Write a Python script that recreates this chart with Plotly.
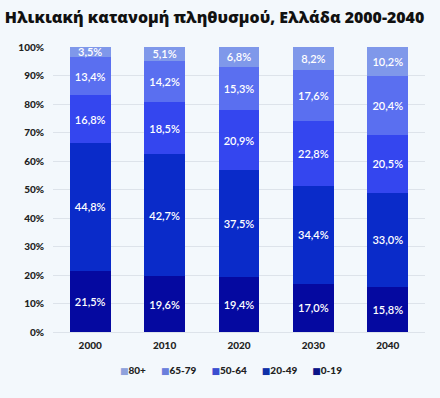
import plotly.graph_objects as go

years = ["2000", "2010", "2020", "2030", "2040"]
groups = ["0-19", "20-49", "50-64", "65-79", "80+"]
values = {
    "0-19": [21.5, 19.6, 19.4, 17.0, 15.8],
    "20-49": [44.8, 42.7, 37.5, 34.4, 33.0],
    "50-64": [16.8, 18.5, 20.9, 22.8, 20.5],
    "65-79": [13.4, 14.2, 15.3, 17.6, 20.4],
    "80+": [3.5, 5.1, 6.8, 8.2, 10.2],
}
colors = {
    "0-19": "#0509a0",
    "20-49": "#0a2bc9",
    "50-64": "#3446ef",
    "65-79": "#5a6ff0",
    "80+": "#7f98ea",
}
legend_colors = {
    "0-19": "#0a1488",
    "20-49": "#0e30a8",
    "50-64": "#3a4ed0",
    "65-79": "#6a7fdc",
    "80+": "#8fa2dc",
}

fig = go.Figure()
for g in groups:
    fig.add_trace(go.Bar(
        x=years, y=values[g], name=g, showlegend=False,
        marker=dict(color=colors[g], line=dict(width=0)),
        text=[f"{v:.1f}%".replace(".", ",") for v in values[g]],
        textposition="inside", insidetextanchor="middle",
        textfont=dict(color="white", size=11, family="Lato", weight=600),
        constraintext="none",
    ))

sep = "\u2002\u2002\u2002"
legend_text = sep.join(
    f"<span style='color:{legend_colors[g]};font-size:9px;font-family:DejaVu Sans'>\u25a0</span>{g}"
    for g in reversed(groups)
)
fig.add_annotation(text=legend_text, xref="paper", yref="paper",
                   x=0.478, y=-0.133, xanchor="center", yanchor="middle",
                   showarrow=False,
                   font=dict(size=10, color="#222222", family="Lato Black"))

fig.update_layout(
    barmode="stack",
    width=440, height=398,
    paper_bgcolor="#f3f8fc", plot_bgcolor="#f3f8fc",
    margin=dict(l=53, r=15, t=47, b=66, autoexpand=False),
    bargap=0.45,
    title=dict(text="Ηλικιακή κατανομή πληθυσμού, Ελλάδα 2000-2040",
               x=0.011, xanchor="left", y=0.955, yanchor="middle",
               font=dict(size=15.9, color="#111111", family="Open Sans", weight=800)),
    font=dict(family="Lato", color="#222222"),
    yaxis=dict(range=[0, 100], dtick=10, ticksuffix="%",
               gridcolor="#dde3ea", gridwidth=1, zeroline=False,
               tickfont=dict(size=10, color="#222222", family="Lato Black"),
               ticklabelstandoff=8),
    xaxis=dict(tickfont=dict(size=10, color="#222222", family="Lato Black"),
               showline=True, linecolor="#dde3ea", ticklabelstandoff=4),
    uniformtext=dict(minsize=9, mode="show"),
)
fig.write_html("out.html", config={"displayModeBar": False},
               post_script="document.body.style.margin='0';document.body.style.background='#f3f8fc';")
